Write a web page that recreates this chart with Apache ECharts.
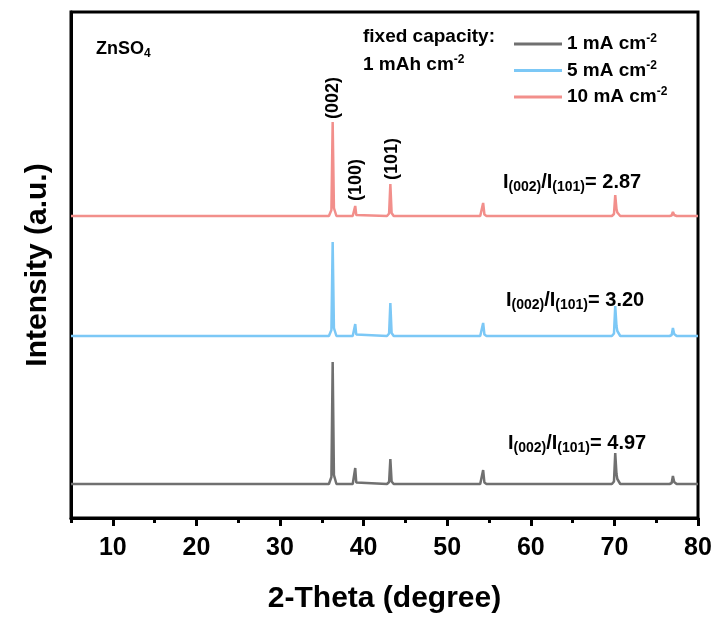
<!DOCTYPE html>
<html><head><meta charset="utf-8">
<script src="https://cdn.jsdelivr.net/npm/echarts@6/dist/echarts.min.js"></script>
<style>html,body{margin:0;padding:0;background:#fff}#c{width:718px;height:626px}</style>
</head><body><div id="c"></div>
<script>
// 2-Theta positions (degree)
const twoTheta = [5,12,20,28, 35.85,36.15,36.3,36.45,36.75, 38.7,38.9,39.0,39.12,39.35, 42.8,43.05,43.2,43.35,43.6, 49, 53.95,54.15,54.3,54.45,54.7, 62, 69.7,69.95,70.1,70.25,70.35,70.7, 76.6,76.85,77.0,77.15,77.45, 80];
// Intensities (a.u.) above each pattern's own baseline
const grey1 = [0,0,0,0, 0,7,122,9,0, 0,1.5,16,1.5,0, 0,2,25,2.5,0, 0, 0,1.5,14,1.5,0, 0, 0,2.5,31,10,5,0, 0,1,8,2,0, 0];
const blue5 = [0,0,0,0, 0,6,94,8,0, 0,1.5,12,1.5,0, 0,2.5,33,3,0, 0, 0,1.5,13,1.5,0, 0, 0,2.5,30,10,5,0, 0,1,8,2,0, 0];
const red10 = [0,0,0,0, 0,6,94,8,0, 0,1,10,1,0, 0,2.5,32,3,0, 0, 0,1.5,13,1.5,0, 0, 0,2,21,7,3.5,0, 0,0.5,4,1,0, 0];
// vertical stacking offsets
const offsets = [34, 182, 302];
const seriesNames = ['1 mA cm-2', '5 mA cm-2', '10 mA cm-2'];
const seriesLabels = ['1 mA cm', '5 mA cm', '10 mA cm'];
const colors = ['#707070', '#7cc8f6', '#f28f8b'];
const ratios = ['4.97', '3.20', '2.87'];
const majorTicks = [10,20,30,40,50,60,70,80];
const minorTicks = [5,15,25,35,45,55,65,75];
const peakLabels = ['(002)', '(100)', '(101)'];

const FONT = '"Liberation Sans", Arial, sans-serif';
const chart = echarts.init(document.getElementById('c'));
const allData = [grey1, blue5, red10];
const series = allData.map((arr, k) => ({
  name: seriesNames[k], type: 'line', showSymbol: false, symbol: 'none',
  lineStyle: { color: colors[k], width: 2.5 }, itemStyle: { color: colors[k] },
  data: twoTheta.map((t, i) => [t, arr[i] + offsets[k]]),
  silent: true, animation: false
}));

const supRich = {
  a: { fontSize: 19, fontWeight: 'bold', fontFamily: FONT, color: '#000', lineHeight: 22 },
  s: { fontSize: 12, fontWeight: 'bold', fontFamily: FONT, color: '#000', verticalAlign: 'top', lineHeight: 12, padding: [0, 0, 0, 0] }
};
const subRich = {
  a: { fontSize: 20, fontWeight: 'bold', fontFamily: FONT, color: '#000', lineHeight: 24 },
  b: { fontSize: 14, fontWeight: 'bold', fontFamily: FONT, color: '#000', verticalAlign: 'bottom', lineHeight: 14, padding: [12, 0, 0, 0] }
};

const ratioPos = [[508, 443], [506, 300], [503, 182]];
const graphics = [];
ratios.forEach((r, k) => {
  graphics.push({ type: 'text', left: ratioPos[k][0], top: ratioPos[k][1] - 14, silent: true,
    style: { text: `{a|I}{b|(002)}{a|/I}{b|(101)}{a|= ${r}}`, rich: subRich } });
});
graphics.push({ type: 'text', left: 96, top: 38, silent: true,
  style: { text: '{a|ZnSO}{b|4}', rich: {
    a: { fontSize: 18, fontWeight: 'bold', fontFamily: FONT, color: '#000', lineHeight: 22 },
    b: { fontSize: 12, fontWeight: 'bold', fontFamily: FONT, color: '#000', verticalAlign: 'bottom', lineHeight: 12, padding: [10, 0, 0, 0] } } } });
graphics.push({ type: 'text', left: 363, top: 27, silent: true,
  style: { text: '{a|fixed capacity:}', rich: supRich } });
graphics.push({ type: 'text', left: 363, top: 54, silent: true,
  style: { text: '{a|1 mAh cm}{s|-2}', rich: supRich } });
const peakPos = [[333, 98], [356, 180], [392, 159]];
peakLabels.forEach((p, k) => {
  graphics.push({ type: 'text', x: peakPos[k][0], y: peakPos[k][1], rotation: Math.PI / 2, silent: true,
    style: { text: p, font: 'bold 18px ' + FONT, fill: '#000', align: 'center', verticalAlign: 'middle' } });
});

chart.setOption({
  animation: false,
  backgroundColor: '#fff',
  grid: { left: 71, right: 20, top: 12, bottom: 108, show: true, borderColor: '#000', borderWidth: 3, backgroundColor: 'transparent' },
  legend: {
    orient: 'vertical', left: 509, top: 28, itemWidth: 48, itemHeight: 3, itemGap: 6, icon: 'rect',
    data: seriesNames,
    formatter: name => `{a|${seriesLabels[seriesNames.indexOf(name)]}}{s|-2}`,
    textStyle: { rich: supRich }
  },
  xAxis: [{
    type: 'value', min: 5, max: 80, position: 'bottom',
    name: '2-Theta (degree)', nameLocation: 'middle', nameGap: 66,
    nameTextStyle: { fontSize: 30, fontWeight: 'bold', fontFamily: FONT, color: '#000' },
    axisLine: { show: true, lineStyle: { color: '#000', width: 3 } },
    axisTick: { show: true, customValues: majorTicks, length: 8, lineStyle: { color: '#000', width: 3 } },
    axisLabel: { customValues: majorTicks, fontSize: 25, fontWeight: 'bold', fontFamily: FONT, color: '#000', margin: 18 },
    splitLine: { show: false }
  }, {
    type: 'value', min: 5, max: 80, position: 'bottom',
    axisLine: { show: false },
    axisTick: { show: true, customValues: minorTicks, length: 5, lineStyle: { color: '#000', width: 3 } },
    axisLabel: { show: false }, splitLine: { show: false }
  }],
  yAxis: {
    type: 'value', min: 0, max: 506,
    name: 'Intensity (a.u.)', nameLocation: 'middle', nameGap: 18,
    nameTextStyle: { fontSize: 30, fontWeight: 'bold', fontFamily: FONT, color: '#000' },
    axisLine: { show: true, lineStyle: { color: '#000', width: 3 } },
    axisTick: { show: false }, axisLabel: { show: false }, splitLine: { show: false }
  },
  series: series,
  graphic: graphics
});
</script></body></html>
